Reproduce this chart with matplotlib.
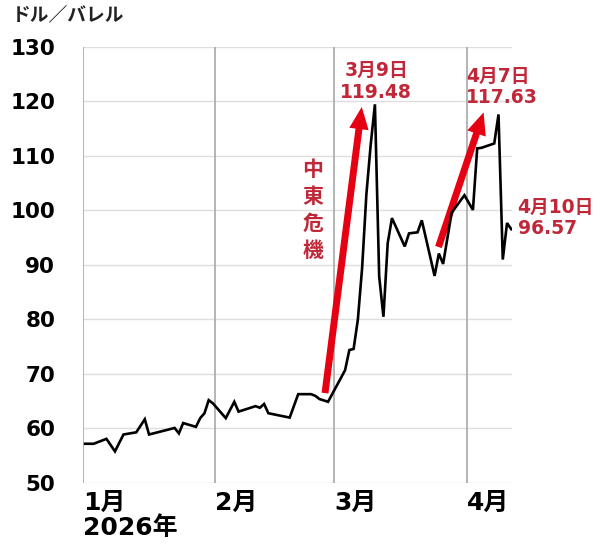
import matplotlib
matplotlib.use("Agg")
import matplotlib.pyplot as plt
import pandas as pd

plt.rcParams['font.family'] = ['DejaVu Sans', 'Noto Sans CJK JP']

# ---- data ----
dates = [
    "2025-12-31", "2026-01-02", "2026-01-05", "2026-01-07", "2026-01-09",
    "2026-01-12", "2026-01-14", "2026-01-15", "2026-01-21", "2026-01-22",
    "2026-01-23", "2026-01-26", "2026-01-27", "2026-01-28", "2026-01-29",
    "2026-01-30", "2026-02-02", "2026-02-04", "2026-02-05", "2026-02-09",
    "2026-02-10", "2026-02-11", "2026-02-12", "2026-02-17", "2026-02-19",
    "2026-02-22", "2026-02-23", "2026-02-24", "2026-02-26", "2026-03-02",
    "2026-03-03", "2026-03-04", "2026-03-05", "2026-03-06", "2026-03-07",
    "2026-03-08", "2026-03-09", "2026-03-10", "2026-03-11", "2026-03-12",
    "2026-03-13", "2026-03-16", "2026-03-17", "2026-03-19", "2026-03-20",
    "2026-03-23", "2026-03-24", "2026-03-25", "2026-03-27", "2026-03-30",
    "2026-04-01", "2026-04-02", "2026-04-03", "2026-04-06", "2026-04-07",
    "2026-04-08", "2026-04-09", "2026-04-10",
]
prices = [
    57.2, 57.2, 58.1, 55.8, 58.9,
    59.3, 61.7, 58.9, 60.1, 59.1,
    61.0, 60.3, 61.9, 62.8, 65.2,
    64.6, 61.9, 64.9, 63.1, 64.1,
    63.8, 64.5, 62.8, 62.0, 66.3,
    66.3, 66.0, 65.4, 64.9, 70.7,
    74.4, 74.6, 80.0, 89.5, 103.0,
    112.0, 119.48, 87.9, 80.5, 94.0,
    98.6, 93.4, 95.8, 96.0, 98.2,
    88.0, 92.1, 90.2, 99.6, 102.8,
    100.1, 111.4, 111.5, 112.3, 117.63,
    91.0, 97.7, 96.57,
]
month_starts = ["2026-01-01", "2026-02-01", "2026-03-01", "2026-04-01"]
month_labels = ["1月\n2026年", "2月", "3月", "4月"]
y_ticks = [50, 60, 70, 80, 90, 100, 110, 120, 130]

# annotations: (date of point, label)
callouts = [("2026-03-09", "3月9日\n119.48"),
            ("2026-04-07", "4月7日\n117.63"),
            ("2026-04-10", "4月10日\n96.57")]
# arrows: (tail date, tail value, tip date, tip value)
arrows = [("2026-02-25 07:00", 66.5, "2026-03-05 22:00", 119.0),
          ("2026-03-23 22:00", 93.3, "2026-04-03 12:00", 118.0)]
crisis_label = ("2026-02-22 09:00", 100.0, "中\n東\n危\n機")

# ---- style ----
RED_TEXT = "#c0283a"
RED_ARROW = "#e50012"
GRID_SHIFT = pd.Timedelta(days=1.5)

x = pd.to_datetime(dates)
fig = plt.figure(figsize=(6.0, 5.46), dpi=100)
ax = fig.add_axes([83/600, 1-483/546, (512-83)/600, (483-47)/546])

for s in ax.spines.values():
    s.set_visible(False)

ax.set_ylim(50, 130)
ax.set_yticks(y_ticks)
ax.yaxis.grid(True, color="#dedede", lw=1.0)
ax.set_axisbelow(True)

mpos = [pd.Timestamp(m) - GRID_SHIFT for m in month_starts]
for m in mpos:
    ax.axvline(m, color="#a8a8a8", lw=1.2, zorder=1)
ax.set_xlim(mpos[0], pd.Timestamp(dates[-1]) + pd.Timedelta(hours=4))
ax.set_xticks(mpos)
ax.set_xticklabels(month_labels, ha="left", fontsize=18, fontweight="bold",
                   linespacing=1.05)
ax.tick_params(axis="x", length=0, pad=6)
ax.tick_params(axis="y", length=0, pad=20, labelsize=15.5)
for lab in ax.get_yticklabels():
    lab.set_fontweight("bold")

ax.plot(x, prices, color="black", lw=1.9, zorder=3, solid_joinstyle="miter")

# arrows
for td, tv, hd, hv in arrows:
    ax.annotate("", xy=(pd.Timestamp(hd), hv), xytext=(pd.Timestamp(td), tv),
                arrowprops=dict(arrowstyle="simple,head_length=16,head_width=14,tail_width=5",
                                mutation_scale=1, color=RED_ARROW, shrinkA=0, shrinkB=0,
                                lw=0),
                zorder=2)

# callouts
lookup = dict(zip(dates, prices))
offsets = {"2026-03-09": ((1, 16.5), "center"),
           "2026-04-07": ((-23.5, 20), "left"),
           "2026-04-10": ((4.5, 8), "left")}
for d, txt in callouts:
    (dx, dy), ha = offsets[d]
    ax.annotate(txt, xy=(pd.Timestamp(d), lookup[d]), xytext=(dx, dy),
                textcoords="offset points", ha=ha, va="center",
                fontsize=13.5, fontweight="bold", color=RED_TEXT,
                linespacing=1.15, multialignment=ha, annotation_clip=False,
                zorder=4)

cd, cv, ct = crisis_label
ax.text(pd.Timestamp(cd), cv, ct, ha="center", va="center", fontsize=15,
        fontweight="bold", color=RED_TEXT, linespacing=1.45, zorder=4)

fig.text(12/600, 1-16/546, "ドル／バレル", ha="left", va="center", fontsize=13.5,
         fontweight="bold", color="#222222")

fig.savefig("out.png", dpi=100)
